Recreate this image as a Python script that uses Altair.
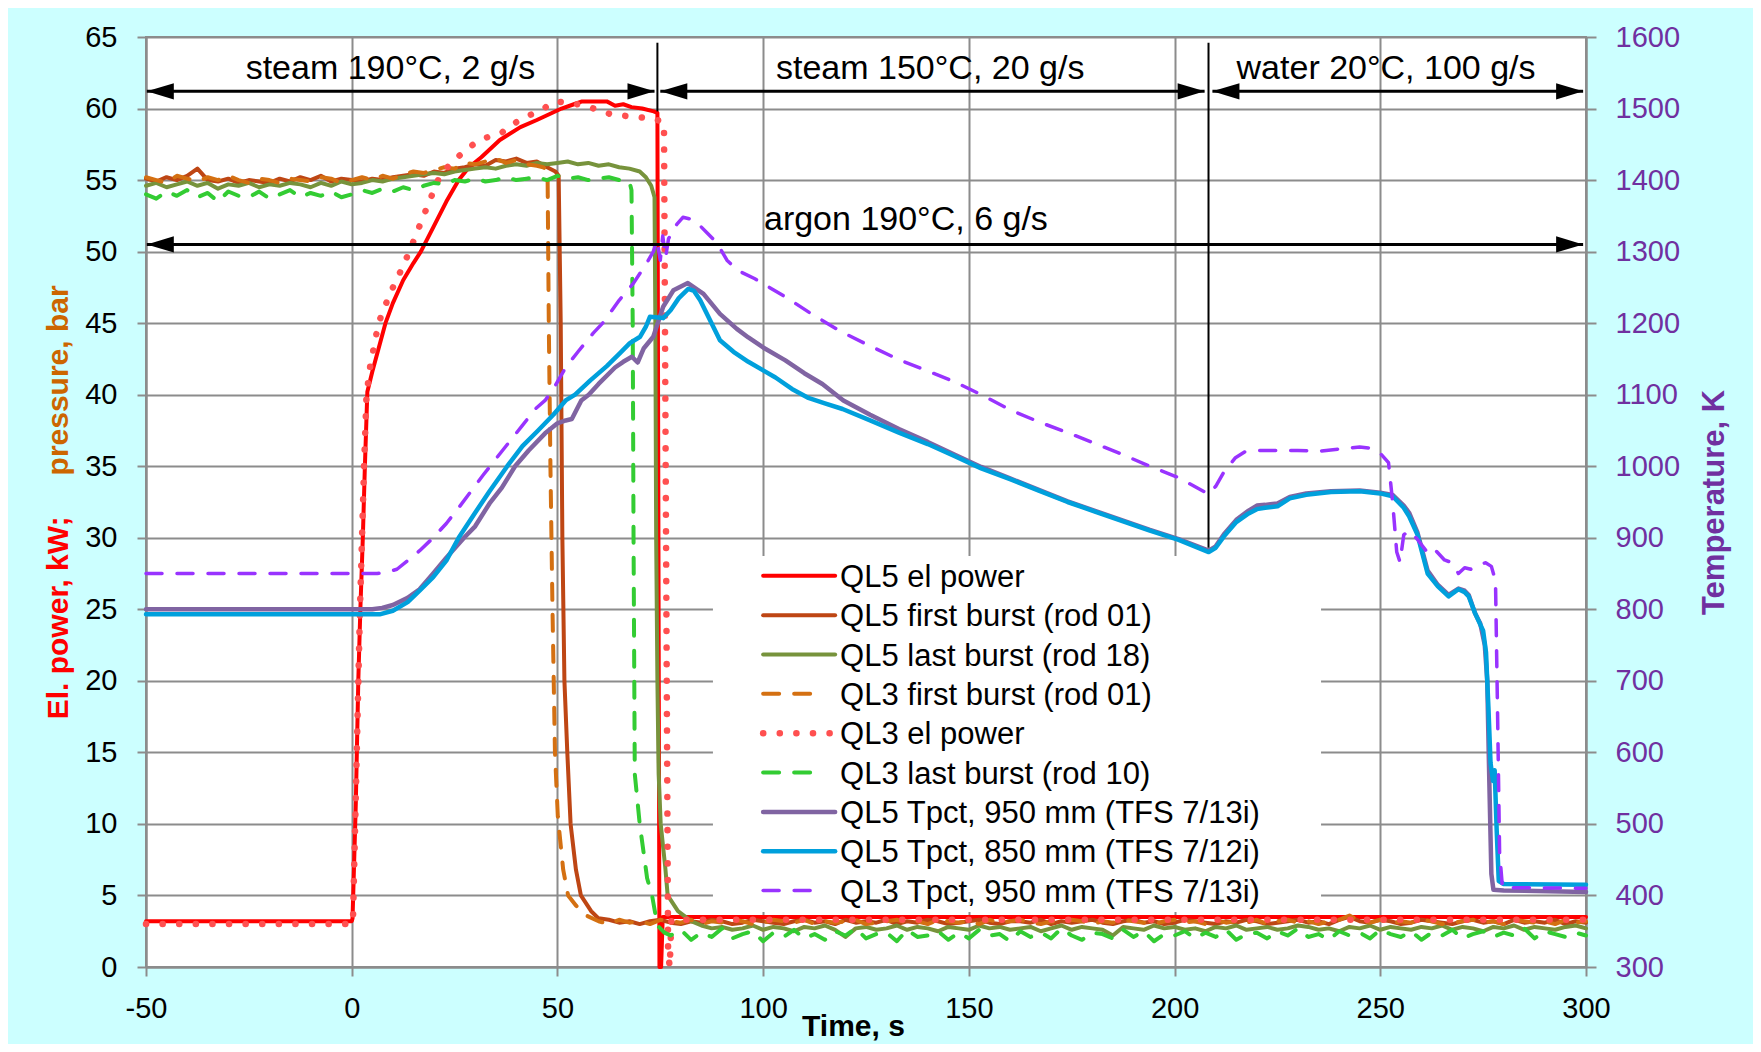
import altair as alt
import pandas as pd

FONT = "Liberation Sans"
CYAN = "#CCFFFF"
GRID = "#8C8C8C"
RED = "#FF0000"
DOT_RED = "#FF5050"
BROWN = "#BE4614"
OLIVE = "#77933C"
ORANGE = "#D47012"
GREEN = "#33CC33"
PURPLE = "#8064A2"
BLUE = "#00A0DC"
VIOLET = "#9933FF"
AXIS_PURPLE = "#7030A0"
TITLE_ORANGE = "#CC6600"

X_TICKS = [-50, 0, 50, 100, 150, 200, 250, 300]
Y_TICKS = [0, 5, 10, 15, 20, 25, 30, 35, 40, 45, 50, 55, 60, 65]
T_TICKS = [300, 400, 500, 600, 700, 800, 900, 1000, 1100, 1200, 1300, 1400, 1500, 1600]

# ---------------- QL5 el power (kW) ----------------
RED_T = [-50, 0, 0.2, 1.0, 1.6, 2.1, 2.7, 3.2, 3.8, 5, 6.5, 8.2, 10, 12.5, 15, 16.8,
         20, 23, 26, 28.5, 31.5, 36, 41, 45, 48, 51, 54, 56, 60, 62, 64, 66, 68, 70.6, 73.4, 74.3,
         74.8, 75.2, 75.6, 300]
RED_V = [3.2, 3.2, 3.4, 11.5, 20, 25, 30, 35, 40.2, 41.6, 43.2, 45, 46.4, 48, 49.2, 50,
         51.8, 53.5, 55, 55.9, 56.6, 57.8, 58.7, 59.2, 59.6, 60.0, 60.3, 60.5, 60.5, 60.5, 60.2, 60.3, 60.1, 60.0, 59.8, 59.7,
         0.0, 0.0, 3.5, 3.5]

# ---------------- QL3 el power (kW) ----------------
DOT_T = [-50, 0, 0.3, 1.0, 2.0, 3.0, 3.6, 4.5, 6.5, 9.2, 12.5, 14, 15.8, 19, 21, 24, 27, 30, 33, 36.4,
         39.7, 43, 46, 49.5, 53, 56.5, 60, 63, 66, 69.6, 73.4, 75.9, 76.4, 76.9, 77.3, 77.7, 300]
DOT_V = [3.0, 3.0, 3.2, 12, 25, 35, 40, 42, 45, 47, 49, 50, 51.3, 53.6, 55, 56.2, 56.9, 57.6, 58, 58.3,
         59, 59.5, 59.9, 60.5, 60.4, 60.2, 59.9, 59.6, 59.5, 59.4, 59.3, 59.0, 30, 1.0, 0.0, 3.3, 3.3]

# ---------------- QL5 first burst (rod 01), bar ----------------
BROWN_PRE = [55.1, 54.9, 55.2, 55.0, 55.3, 55.8, 55.0, 54.9, 55.1, 54.8,
             55.0, 54.9, 54.8, 55.1, 54.9, 55.2, 55.0, 55.3, 54.9, 55.1,
             55.0, 54.9, 55.1, 55.0, 55.2, 55.3, 55.4, 55.3, 55.6, 55.5,
             55.8, 55.9, 56.1, 56.0, 56.4, 56.3, 56.5, 56.2, 56.3]
BROWN_TAIL_T = [47.5, 49.5, 50.3, 50.8, 51.2, 51.7, 52.4, 53.2, 54.5, 55.7, 58.2, 60.0]
BROWN_TAIL_V = [55.9, 55.6, 55.3, 45, 30, 20, 15, 10, 6.8, 5.0, 3.9, 3.4]
BROWN_POST = [3.3, 3.1, 3.2, 3.0, 3.2, 3.3, 3.1, 3.0, 3.2, 3.1,
              3.3, 3.2, 3.0, 3.1, 3.3, 3.2, 3.1, 3.0, 3.2, 3.3,
              3.1, 3.2, 3.0, 3.3, 3.1, 3.2, 3.1, 3.3, 3.0, 3.2,
              3.1, 3.3, 3.2, 3.0, 3.1, 3.2, 3.3, 3.1, 3.0, 3.2,
              3.2, 3.1, 3.3, 3.0, 3.2, 3.1, 3.2, 3.3, 3.1, 3.0,
              3.2, 3.3, 3.1, 3.2, 3.0, 3.1, 3.3, 3.2, 3.1, 3.0,
              3.2, 3.1, 3.3, 3.2, 3.0, 3.1, 3.2, 3.3, 3.1, 3.2,
              3.0, 3.3, 3.5, 3.2, 3.1, 3.3, 3.2, 3.0, 3.1, 3.3,
              3.2, 3.1, 3.0, 3.2, 3.3, 3.1, 3.2, 3.0, 3.3, 3.1,
              3.2, 3.1, 3.3, 3.0, 3.2, 3.1]

# ---------------- QL3 first burst (rod 01), bar ----------------
ORANGE_PRE = [55.2, 55.0, 54.8, 55.3, 55.1, 54.9, 55.2, 55.0, 55.3, 55.0,
              54.8, 55.1, 55.0, 54.8, 55.1, 55.0, 54.9, 55.2, 55.1, 54.8,
              55.0, 55.2, 55.0, 55.3, 55.1, 55.4, 55.6, 55.5, 55.7, 55.9,
              55.8, 56.2, 56.1, 56.3, 56.5, 56.2, 56.4, 56.1, 56.0]
ORANGE_TAIL_T = [46.5, 47.6, 47.9, 48.3, 48.8, 49.4, 50.1, 51.4, 52.6, 54.5, 57.0]
ORANGE_TAIL_V = [55.9, 55.7, 45, 35, 25, 15, 10.5, 6.8, 5.0, 4.3, 3.6]
ORANGE_POST = [3.2, 3.0, 3.3, 3.1, 3.2, 3.0, 3.3, 3.2, 3.1, 3.3,
               3.0, 3.2, 3.1, 3.3, 3.2, 3.0, 3.1, 3.3, 3.2, 3.1,
               3.3, 3.0, 3.2, 3.1, 3.2, 3.3, 3.0, 3.1, 3.2, 3.3,
               3.1, 3.2, 3.0, 3.3, 3.2, 3.1, 3.2, 3.0, 3.3, 3.1,
               3.2, 3.3, 3.1, 3.0, 3.2, 3.1, 3.3, 3.2, 3.0, 3.2,
               3.1, 3.3, 3.2, 3.1, 3.0, 3.2, 3.3, 3.1, 3.2, 3.0,
               3.3, 3.1, 3.2, 3.1, 3.3, 3.0, 3.2, 3.3, 3.1, 3.2,
               3.0, 3.2, 3.3, 3.6, 3.2, 3.1, 3.3, 3.0, 3.2, 3.1,
               3.3, 3.2, 3.0, 3.1, 3.2, 3.3, 3.1, 3.2, 3.0, 3.3,
               3.2, 3.1, 3.2, 3.0, 3.3, 3.1, 3.2]

# ---------------- QL5 last burst (rod 18), bar ----------------
OLIVE_PRE = [54.6, 54.8, 54.5, 54.7, 54.9, 54.6, 54.8, 54.4, 54.7, 54.6,
             54.8, 54.5, 54.7, 54.6, 54.8, 54.7, 54.5, 54.8, 54.6, 54.9,
             54.7, 54.8, 55.0, 54.9, 55.1, 55.2, 55.3, 55.4, 55.5, 55.4,
             55.6, 55.7, 55.8, 55.9, 55.8, 56.0, 56.1, 56.0, 56.2, 56.1,
             56.2, 56.3, 56.1, 56.2, 56.0, 56.1, 55.9, 55.8, 55.6]
OLIVE_TAIL_T = [71.5, 72.8, 73.6, 73.8, 74.0, 74.3, 74.6, 75.1, 76.2, 76.8, 79.3, 82.5]
OLIVE_TAIL_V = [55.2, 54.6, 53.8, 45, 30, 20, 13.5, 10, 7.0, 5.0, 3.9, 3.2]
OLIVE_POST = [2.9, 2.7, 2.8, 2.6, 2.7, 2.9, 2.6, 2.8, 2.7, 2.5,
              2.8, 2.7, 2.9, 2.6, 2.1, 2.7, 2.8, 2.6, 2.7, 2.9,
              2.6, 2.8, 2.7, 2.5, 2.8, 2.7, 2.6, 2.9, 2.7, 2.8,
              2.6, 2.7, 2.8, 2.5, 2.7, 2.9, 2.6, 2.8, 2.7, 2.6,
              2.2, 2.8, 2.7, 2.6, 2.9, 2.7, 2.8, 2.6, 2.7, 2.5,
              2.8, 2.7, 2.9, 2.6, 2.7, 2.8, 2.6, 2.7, 2.9, 2.8,
              2.6, 2.7, 2.5, 2.8, 2.7, 2.9, 2.6, 2.8, 2.7, 2.6,
              2.8, 2.7, 2.9, 2.6, 2.8, 2.7, 2.5, 2.8, 2.7, 2.9,
              2.6, 2.8, 2.7, 2.6, 2.8, 2.9, 2.7]

# ---------------- QL3 last burst (rod 10), bar ----------------
GREEN_PRE = [54.0, 53.7, 54.2, 53.9, 54.3, 53.8, 54.1, 53.5, 54.2, 53.9,
             53.8, 54.2, 53.7, 54.0, 54.3, 53.8, 54.1, 53.9, 54.2, 53.8,
             54.0, 54.3, 54.1, 54.4, 54.2, 54.5, 54.3, 54.6, 54.8, 54.7,
             55.0, 54.9, 55.1, 54.9, 55.0, 55.2, 55.0, 55.1, 55.2, 55.0,
             55.3, 55.1, 55.2, 55.0, 55.1, 55.2, 55.0, 54.9]
GREEN_TAIL_T = [68.0, 68.3, 68.5, 68.8, 70.0, 71.8, 73.0, 74.3, 76.0]
GREEN_TAIL_V = [54.3, 45, 30, 13.5, 10, 6.2, 5.0, 2.9, 2.4]
GREEN_POST = [2.2, 2.6, 1.9, 2.4, 2.1, 2.7, 2.0, 2.3, 2.5, 1.8,
              2.4, 2.1, 2.6, 2.0, 2.3, 1.9, 2.5, 2.2, 2.7, 2.0,
              2.3, 2.4, 1.8, 2.6, 2.1, 2.2, 2.5, 1.9, 2.4, 2.0,
              2.6, 2.2, 2.3, 1.8, 2.5, 2.1, 2.4, 2.0, 2.7, 2.2,
              1.9, 2.4, 2.3, 2.0, 2.6, 2.1, 2.5, 1.8, 2.3, 2.2,
              2.5, 2.0, 2.4, 2.1, 2.6, 1.9, 2.3, 2.4, 2.0, 2.5,
              2.2, 2.7, 2.1, 2.3, 1.9, 2.5, 2.2, 2.4, 2.0, 2.6,
              2.3, 2.1, 2.5, 1.9, 2.4, 2.2, 2.6, 2.0, 2.3, 2.5,
              2.1, 2.4, 2.2, 2.7, 2.0, 2.5, 2.3, 2.1, 2.4, 2.2]

# ---------------- QL5 Tpct, 950 mm (K) ----------------
P_T = [-50, 5, 7.4, 10, 13.6, 16.5, 19.8, 23, 27.3, 30, 33.5, 36.5, 39.7, 43, 47, 50, 52, 53.5, 55.8, 57.6,
       60, 64, 66, 68.1, 69.5, 71, 73.3, 74.1, 75.7, 78.2, 81.7, 85.5, 89.5, 93.6, 96.4, 100, 105.4, 110, 114.4, 119.5,
       126, 133, 140, 146.6, 153, 160, 167, 174, 181, 187.5, 194, 201, 208.3, 210, 212, 215, 218, 220, 222, 225,
       228, 232, 238, 245, 250, 253, 255.7, 257, 259, 261.5, 264, 266.6, 269, 270.5, 271.5, 273, 274.3, 275.4, 276, 276.5,
       277, 277.5, 280, 300]
P_V = [800, 800, 802, 806, 816, 828, 850, 872, 900, 916, 948, 970, 1000, 1022, 1046, 1060, 1064, 1066, 1092, 1100,
       1115, 1138, 1146, 1153, 1145, 1165, 1181, 1195, 1223, 1246, 1256, 1241, 1213, 1192, 1180, 1166, 1148, 1130, 1115, 1092,
       1072, 1052, 1034, 1016, 999, 983, 967, 951, 937, 924, 911, 898, 882, 888, 905, 925, 938, 945, 946, 948,
       957, 962, 965, 966, 963, 960, 945, 935, 908, 854, 834, 820, 829, 826, 820, 795, 780, 750, 700, 560,
       430, 408, 407, 405]

# ---------------- QL5 Tpct, 850 mm (K) ----------------
B_T = [-50, 6.8, 10, 13.6, 16.5, 19.8, 23, 26, 30, 33.5, 37.8, 41.5, 45.3, 49, 52, 54.3, 58, 62, 65.2, 67.6,
       70.1, 71.5, 72.5, 74.5, 75.7, 77.5, 79.5, 81.8, 83.2, 84.7, 87.1, 89.5, 92.8, 96.4, 100, 103, 107, 110.8, 115, 119.3,
       126, 133, 140, 146.6, 153, 160, 167, 174, 181, 187.5, 194, 201, 208.3, 210, 212, 215, 218, 220, 222, 225,
       228, 232, 238, 245, 250, 253, 255.7, 257, 259, 261.5, 264, 266.6, 269, 270.5, 271.5, 273, 275, 275.7, 276.3, 276.8,
       277.4, 277.8, 278.3, 278.8, 280, 300]
B_V = [793, 793, 798, 810, 826, 845, 868, 900, 935, 965, 1000, 1028, 1050, 1072, 1092, 1100, 1120, 1140, 1158, 1172,
       1181, 1195, 1209, 1208, 1207, 1218, 1235, 1248, 1245, 1232, 1204, 1176, 1160, 1146, 1134, 1124, 1108, 1096, 1088, 1080,
       1064, 1047, 1031, 1014, 997, 982, 966, 950, 936, 923, 910, 897, 880, 886, 902, 922, 934, 940, 942, 944,
       955, 960, 964, 965, 962, 958, 942, 930, 905, 850, 832, 818, 828, 824, 818, 795, 770, 740, 660, 585,
       560, 575, 490, 420, 416, 415]

# ---------------- QL3 Tpct, 950 mm (K) ----------------
D_T = [-50, 6.2, 8.7, 11, 13.6, 16.5, 19.8, 23, 26, 29, 32, 35, 38.3, 41.5, 44.6, 47, 49, 52, 55, 58.7,
       61, 65, 68.5, 71.7, 73.3, 74.2, 75, 75.6, 76.3, 77, 79, 80.5, 82, 84, 86.4, 88.8, 91.2, 93.7, 98, 105.6,
       112, 119, 126, 133, 140, 146.6, 153, 160, 167, 174, 181, 187.5, 194, 201, 208.3, 210, 212, 214.8, 217, 220,
       230, 235, 240, 245, 248, 250, 252, 253, 254, 254.8, 255.7, 257, 259, 261.5, 263, 265.6, 267.5, 269, 270.5, 272,
       273.5, 275.6, 277, 278, 278.5, 279, 279.7, 300]
D_V = [850, 850, 852, 856, 868, 882, 900, 920, 942, 965, 988, 1010, 1034, 1057, 1080, 1092, 1108, 1138, 1160, 1186,
       1200, 1232, 1256, 1284, 1300, 1316, 1288, 1322, 1292, 1318, 1338, 1348, 1346, 1340, 1326, 1312, 1288, 1274, 1262, 1236,
       1212, 1188, 1168, 1149, 1133, 1118, 1100, 1079, 1062, 1047, 1031, 1016, 1000, 984, 961, 972, 992, 1012, 1020, 1022,
       1022, 1021, 1024, 1027, 1025, 1018, 1005, 950, 880, 866, 904, 910, 898, 879, 885, 869, 865, 850, 858, 856,
       862, 865, 860, 840, 657, 460, 411, 410]

LEGEND_NAMES = ["QL5 el power", "QL5 first burst (rod 01)", "QL5 last burst (rod 18)",
                "QL3 first burst (rod 01)", "QL3 el power", "QL3 last burst (rod 10)",
                "QL5 Tpct, 950 mm (TFS 7/13i)", "QL5 Tpct, 850 mm (TFS 7/12i)", "QL3 Tpct, 950 mm (TFS 7/13i)"]

PHASE_TEXT = ["steam 190°C, 2 g/s", "steam 150°C, 20 g/s", "water 20°C, 100 g/s", "argon 190°C, 6 g/s"]
PHASE_T = [9.4, 140.6, 251.4, 134.7]
PHASE_V = [62.03, 62.03, 62.03, 51.5]

ARROW_T1 = [-49.8, 75.0, 209.2, -49.8]
ARROW_T2 = [73.6, 207.3, 299.3, 299.3]
ARROW_V = [61.2, 61.2, 61.2, 50.5]

SEP_T = [74.3, 208.25]
SEP_V1 = [59.8, 29.3]
SEP_V2 = [64.6, 64.6]


def grid(start, step, vals):
    return [round(start + step * i, 3) for i in range(len(vals))]


brown_t = grid(-50, 2.5, BROWN_PRE) + BROWN_TAIL_T + grid(62.5, 2.5, BROWN_POST)
brown_v = BROWN_PRE + BROWN_TAIL_V + BROWN_POST
orange_t = grid(-50, 2.5, ORANGE_PRE) + ORANGE_TAIL_T + grid(60, 2.5, ORANGE_POST)
orange_v = ORANGE_PRE + ORANGE_TAIL_V + ORANGE_POST
olive_t = grid(-50, 2.5, OLIVE_PRE) + OLIVE_TAIL_T + grid(85, 2.5, OLIVE_POST)
olive_v = OLIVE_PRE + OLIVE_TAIL_V + OLIVE_POST
green_t = grid(-50, 2.5, GREEN_PRE) + GREEN_TAIL_T + grid(77.5, 2.5, GREEN_POST)
green_v = GREEN_PRE + GREEN_TAIL_V + GREEN_POST

XS = alt.Scale(domain=[-50, 300], nice=False, zero=False)
LYS = alt.Scale(domain=[0, 65], nice=False, zero=False)
RYS = alt.Scale(domain=[300, 1600], nice=False, zero=False)

X_AXIS = alt.Axis(values=X_TICKS, labelExpr="'' + datum.value", grid=True, gridColor=GRID, gridWidth=2,
                  domainColor=GRID, domainWidth=2, tickColor=GRID, tickWidth=2, tickSize=9,
                  labelFont=FONT, labelFontSize=29, labelColor="black", labelPadding=18,
                  labelFlush=False, labelOverlap=False,
                  title="Time, s", titleFont=FONT, titleFontSize=30, titleFontWeight="bold",
                  titleColor="black", titleX=707, titleY=68, titleAlign="center",
                  titleBaseline="alphabetic")
L_AXIS = alt.Axis(values=Y_TICKS, grid=True, gridColor=GRID, gridWidth=2, domainColor=GRID,
                  domainWidth=2, tickColor=GRID, tickWidth=2, tickSize=9, labelFont=FONT,
                  labelFontSize=29, labelColor="black", labelPadding=20, labelOverlap=False,
                  title="", orient="left")
R_AXIS = alt.Axis(values=T_TICKS, format="d", grid=False, orient="right", domainColor=GRID, domainWidth=2,
                  tickColor=GRID, tickWidth=2, tickSize=10, labelFont=FONT, labelFontSize=29,
                  labelColor=AXIS_PURPLE, labelPadding=19, labelOverlap=False,
                  title="Temperature, K", titleFont=FONT, titleFontSize=31, titleFontWeight="bold",
                  titleColor=AXIS_PURPLE, titleAngle=270, titleX=128, titleY=465,
                  titleAlign="center", titleBaseline="middle")

DOT_DASH = [0.1, 16.5]
DASH = [16, 15]

# style per legend entry: color, width, dash
STYLES = [
    (RED, 4, None),
    (BROWN, 4, None),
    (OLIVE, 4, None),
    (ORANGE, 4, DASH),
    (DOT_RED, 6.5, DOT_DASH),
    (GREEN, 4, DASH),
    (PURPLE, 4.5, None),
    (BLUE, 4.5, None),
    (VIOLET, 3.5, DASH),
]


def X(field):
    # every layer carries the same x axis definition so that the shared axis merges cleanly
    return alt.X(field, scale=XS, axis=X_AXIS)


def Y(field, yscale, y_axis=None):
    return alt.Y(field, scale=yscale, axis=y_axis)


def line(ts, vs, style, yscale, y_axis=None):
    color, width, dash = style
    df = pd.DataFrame({"t": ts, "v": vs, "o": list(range(len(ts)))})
    kw = dict(color=color, strokeWidth=width, strokeCap="round", strokeJoin="round")
    if dash is not None:
        kw["strokeDash"] = dash
    return alt.Chart(df).mark_line(**kw).encode(
        x=X("t:Q"),
        y=Y("v:Q", yscale, y_axis),
        order=alt.Order("o:Q"),
    )


layers = [
    line(RED_T, RED_V, STYLES[0], LYS, L_AXIS),
    line(brown_t, brown_v, STYLES[1], LYS),
    line(olive_t, olive_v, STYLES[2], LYS),
    line(orange_t, orange_v, STYLES[3], LYS),
    line(DOT_T, DOT_V, STYLES[4], LYS),
    line(green_t, green_v, STYLES[5], LYS),
    line(P_T, P_V, STYLES[6], RYS, R_AXIS),
    line(B_T, B_V, STYLES[7], RYS),
    line(D_T, D_V, STYLES[8], RYS),
]

# ---------------- annotations ----------------
arrows_df = pd.DataFrame({"t": ARROW_T1, "t2": ARROW_T2, "v": ARROW_V})
shafts = alt.Chart(arrows_df).mark_rule(color="black", strokeWidth=3).encode(
    x=X("t:Q"), x2="t2:Q", y=Y("v:Q", LYS))
left_heads = alt.Chart(arrows_df).mark_point(
    shape="M0,0L2,-0.6L2,0.6Z", size=729, filled=True, color="black", opacity=1, strokeWidth=0
).encode(x=X("t:Q"), y=Y("v:Q", LYS))
right_heads = alt.Chart(arrows_df).mark_point(
    shape="M0,0L-2,-0.6L-2,0.6Z", size=729, filled=True, color="black", opacity=1, strokeWidth=0
).encode(x=X("t2:Q"), y=Y("v:Q", LYS))

sep_df = pd.DataFrame({"t": SEP_T, "v": SEP_V1, "v2": SEP_V2})
seps = alt.Chart(sep_df).mark_rule(color="black", strokeWidth=2).encode(
    x=X("t:Q"), y=Y("v:Q", LYS), y2="v2:Q")

phase_df = pd.DataFrame({"label": PHASE_TEXT, "t": PHASE_T, "v": PHASE_V})
phase_text = alt.Chart(phase_df).mark_text(
    font=FONT, fontSize=34, color="black", align="center", baseline="alphabetic"
).encode(x=X("t:Q"), y=Y("v:Q", LYS), text="label:N")

ltitle_df = pd.DataFrame({"label": ["El. power, kW;", "pressure, bar"], "t": [-71.1, -71.1],
                          "v": [24.4, 41.0], "c": [RED, TITLE_ORANGE]})
ltitle = alt.Chart(ltitle_df).mark_text(
    font=FONT, fontSize=30, fontWeight="bold", angle=270, align="center", baseline="middle"
).encode(x=X("t:Q"), y=Y("v:Q", LYS), text="label:N", color=alt.Color("c:N", scale=None))

# legend (drawn in data space)
LEG_X0, LEG_X1, LEG_X1_DASH, LEG_TX = 100.0, 117.5, 113.8, 118.7
leg_rows = [27.34 - 2.75 * i for i in range(len(LEGEND_NAMES))]
box_df = pd.DataFrame({"t": [87.8], "t2": [235.6], "v": [3.84], "v2": [28.72]})
legend_box = alt.Chart(box_df).mark_rect(color="white").encode(
    x=X("t:Q"), x2="t2:Q", y=Y("v:Q", LYS), y2="v2:Q")

legend_lines = []
for i, st in enumerate(STYLES):
    x1 = LEG_X1_DASH if (st[2] is not None and st[2] is not DOT_DASH) else LEG_X1
    legend_lines.append(line([LEG_X0, x1], [leg_rows[i], leg_rows[i]], st, LYS))

leg_text_df = pd.DataFrame({"label": LEGEND_NAMES, "t": [LEG_TX] * len(LEGEND_NAMES), "v": leg_rows})
legend_text = alt.Chart(leg_text_df).mark_text(
    font=FONT, fontSize=31, color="black", align="left", baseline="middle", dy=2
).encode(x=X("t:Q"), y=Y("v:Q", LYS), text="label:N")

layers += [legend_box, *legend_lines, legend_text, shafts, left_heads, right_heads,
           seps, phase_text, ltitle]

chart = alt.layer(*layers).resolve_scale(y="independent").properties(
    width=1440, height=930,
    autosize=alt.AutoSizeParams(type="none"),
    padding={"left": 138, "top": 29, "right": 167, "bottom": 77},
).configure(background=CYAN, font=FONT).configure_view(fill="white", stroke=GRID, strokeWidth=2)

chart.save("out.html", embed_options={"renderer": "svg", "actions": False})
